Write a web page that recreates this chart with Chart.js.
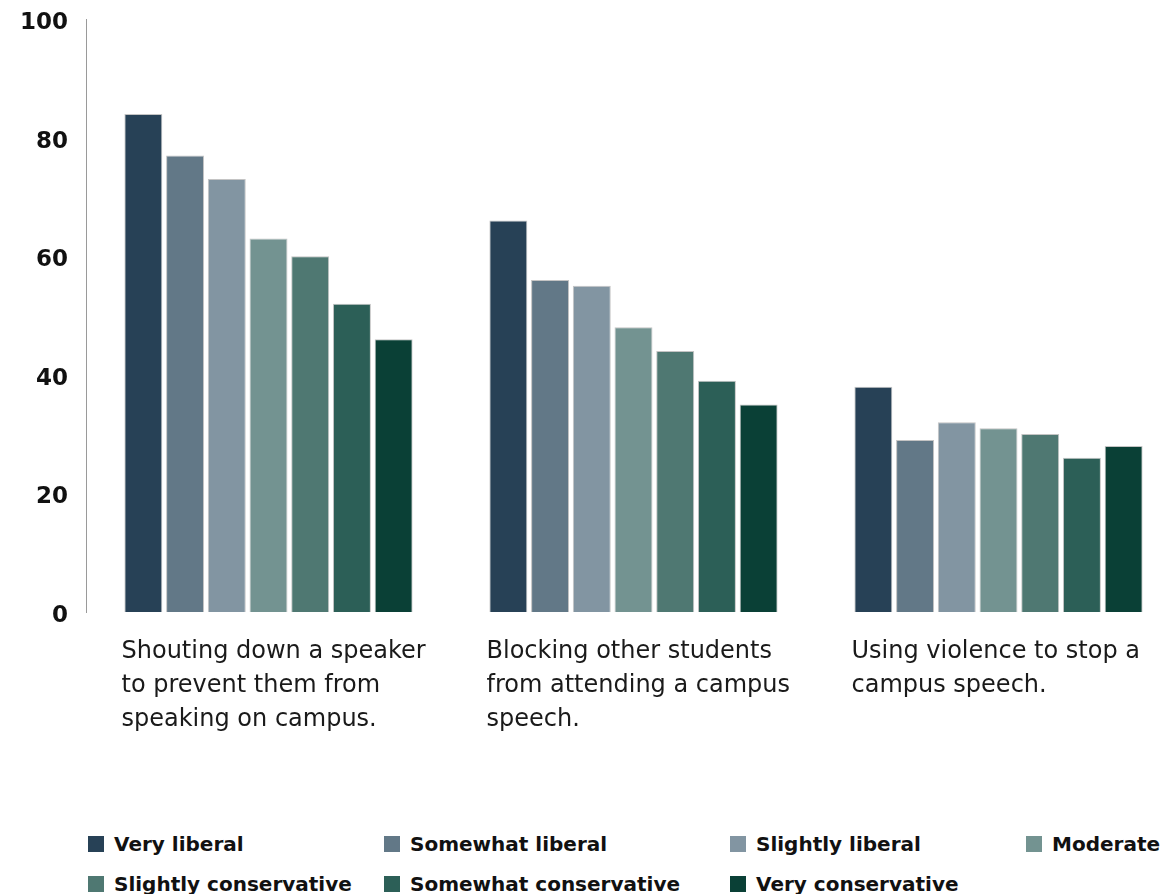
<!DOCTYPE html>
<html>
<head>
<meta charset="utf-8">
<script src="https://cdn.jsdelivr.net/npm/chart.js@4/dist/chart.umd.min.js"></script>
<style>
  html, body { margin: 0; padding: 0; background: #fff; overflow: hidden; width: 1168px; height: 894px; }
  #wrap { position: absolute; left: 0; top: 0; width: 1181px; height: 762px; }
  #legend { position: absolute; left: 88px; top: 833px; display: grid;
    grid-template-columns: 296px 346px 296px auto; row-gap: 18px;
    font-family: "DejaVu Sans", sans-serif; font-weight: 700; font-size: 20px; color: #111; }
  .item { display: flex; align-items: center; height: 22px; white-space: nowrap; }
  .box { width: 16px; height: 16px; margin-right: 10px; flex: none; }
</style>
</head>
<body>
<div id="wrap"><canvas id="c"></canvas></div>
<div id="legend"></div>
<script>
const categories = [
  ["Shouting down a speaker", "to prevent them from", "speaking on campus."],
  ["Blocking other students", "from attending a campus", "speech."],
  ["Using violence to stop a", "campus speech."]
];
const seriesNames = ["Very liberal", "Somewhat liberal", "Slightly liberal", "Moderate",
  "Slightly conservative", "Somewhat conservative", "Very conservative"];
const veryLiberal = [84, 66, 38];
const somewhatLiberal = [77, 56, 29];
const slightlyLiberal = [73, 55, 32];
const moderate = [63, 48, 31];
const slightlyConservative = [60, 44, 30];
const somewhatConservative = [52, 39, 26];
const veryConservative = [46, 35, 28];
const yTicks = [0, 20, 40, 60, 80, 100];
const colors = ["#274156", "#627887", "#8295a2", "#739391", "#4f7872", "#2c5f57", "#0a4036"];

const seriesValues = [veryLiberal, somewhatLiberal, slightlyLiberal, moderate,
  slightlyConservative, somewhatConservative, veryConservative];

const datasets = seriesNames.map((name, i) => ({
  label: name,
  data: seriesValues[i],
  backgroundColor: colors[i],
  borderColor: "rgba(190,190,190,0.9)",
  borderWidth: 1,
  categoryPercentage: 0.8,
  barPercentage: 0.91
}));

new Chart(document.getElementById("c"), {
  type: "bar",
  data: { labels: categories, datasets: datasets },
  options: {
    responsive: true,
    maintainAspectRatio: false,
    animation: false,
    layout: { padding: { top: 19, right: 0, bottom: 0, left: 0 } },
    plugins: { legend: { display: false }, tooltip: { enabled: false } },
    scales: {
      x: {
        grid: { display: false, drawTicks: false },
        border: { display: false },
        ticks: {
          autoSkip: false, maxRotation: 0, minRotation: 0,
          align: "start", labelOffset: -147, padding: 23,
          color: "#1a1a1a",
          font: { family: "'DejaVu Sans', sans-serif", size: 24, lineHeight: 1.417 }
        },
        afterFit: (s) => { s.height = 150; s.paddingLeft = 0; s.paddingRight = 0; }
      },
      y: {
        min: 0, max: 100,
        afterBuildTicks: (s) => { s.ticks = yTicks.map(v => ({ value: v })); },
        grid: { display: false, drawTicks: false },
        border: { display: true, color: "#9a9a9a", width: 1 },
        ticks: {
          padding: 18, color: "#111", labelOffset: 4,
          font: { family: "'DejaVu Sans', sans-serif", size: 23, weight: "bold" }
        },
        afterFit: (s) => { s.width = 86; s.paddingTop = 0; s.paddingBottom = 0; }
      }
    }
  }
});

const legend = document.getElementById("legend");
seriesNames.forEach((name, i) => {
  const it = document.createElement("div");
  it.className = "item";
  const b = document.createElement("span");
  b.className = "box";
  b.style.background = colors[i];
  const t = document.createElement("span");
  t.textContent = name;
  it.appendChild(b); it.appendChild(t);
  legend.appendChild(it);
});
</script>
</body>
</html>
